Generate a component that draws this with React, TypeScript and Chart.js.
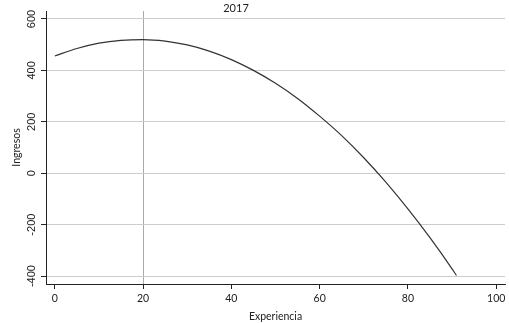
import React, { useEffect, useRef } from "react";
import { Chart, registerables } from "chart.js";
Chart.register(...registerables);

const chartTitle = "2017";
const xTitle = "Experiencia";
const yTitle = "Ingresos";
const experiencia = [0, 5, 10, 15, 20, 25, 30, 35, 40, 45, 50, 55, 60, 65, 70, 75, 80, 85, 90, 91];
const ingresos = [456, 485, 506, 517, 520, 514, 499, 475, 442, 400, 350, 291, 222, 146, 60, -35, -139, -251, -372, -398];
const markerX = 20;
const xTicks = [0, 20, 40, 60, 80, 100];
const yTicks = [-400, -200, 0, 200, 400, 600];

const FONT = "Lato";
const YFONT = "Liberation Sans";

export default function App() {
  const ref = useRef<HTMLCanvasElement>(null);
  useEffect(() => {
    const titlePlugin = {
      id: "titleText",
      afterDraw(chart: any) {
        const ctx = chart.ctx;
        ctx.save();
        ctx.font = `11px ${FONT}`;
        ctx.fillStyle = "#222";
        ctx.textAlign = "center";
        ctx.textBaseline = "middle";
        ctx.fillText(chartTitle, 236, 8);
        ctx.restore();
      },
    };
    const chart = new Chart(ref.current!, {
      type: "scatter",
      data: {
        datasets: [
          {
            data: experiencia.map((x, i) => ({ x, y: ingresos[i] })),
            showLine: true,
            borderColor: "#333",
            borderWidth: 1.2,
            pointRadius: 0,
            cubicInterpolationMode: "monotone",
          } as any,
        ],
      },
      options: {
        animation: false,
        responsive: false,
        layout: { padding: { top: 11, right: 4, left: 0, bottom: 0 } },
        plugins: { legend: { display: false }, tooltip: { enabled: false }, title: { display: false } },
        scales: {
          x: {
            type: "linear",
            min: -2,
            max: 102,
            afterBuildTicks: (s: any) => {
              s.ticks = xTicks.map((v) => ({ value: v }));
            },
            afterFit: (s: any) => {
              s.height = 39;
            },
            ticks: { color: "#222", font: { family: FONT, size: 10.5 }, padding: 3, maxRotation: 0 },
            grid: {
              color: (c: any) => (c.tick && c.tick.value === markerX ? "#aaa" : "rgba(0,0,0,0)"),
              tickColor: "#222",
              tickLength: 5,
              lineWidth: 1,
            },
            border: { color: "#222", width: 1 },
            title: { display: true, text: xTitle, color: "#222", font: { family: FONT, size: 10.5 }, padding: 0 },
          },
          y: {
            type: "linear",
            min: -431,
            max: 631,
            afterBuildTicks: (s: any) => {
              s.ticks = yTicks.map((v) => ({ value: v }));
            },
            afterFit: (s: any) => {
              s.width = 46;
            },
            ticks: {
              color: "#222",
              font: { family: YFONT, size: 11 },
              padding: -2,
              minRotation: 90,
              maxRotation: 90,
              crossAlign: "center",
            },
            grid: { color: "#ccc", tickColor: "#222", tickLength: 5, lineWidth: 1 },
            border: { color: "#222", width: 1 },
            title: {
              display: true,
              text: yTitle,
              color: "#222",
              font: { family: FONT, size: 10.5 },
              padding: { top: 10, bottom: 0 },
            },
          },
        },
      },
      plugins: [titlePlugin],
    } as any);
    return () => chart.destroy();
  }, []);
  return (
    <div style={{ position: "absolute", left: 0, top: 0, width: 509, height: 323, background: "#fff" }}>
      <canvas ref={ref} width={509} height={323} style={{ width: 509, height: 323 }} />
    </div>
  );
}
